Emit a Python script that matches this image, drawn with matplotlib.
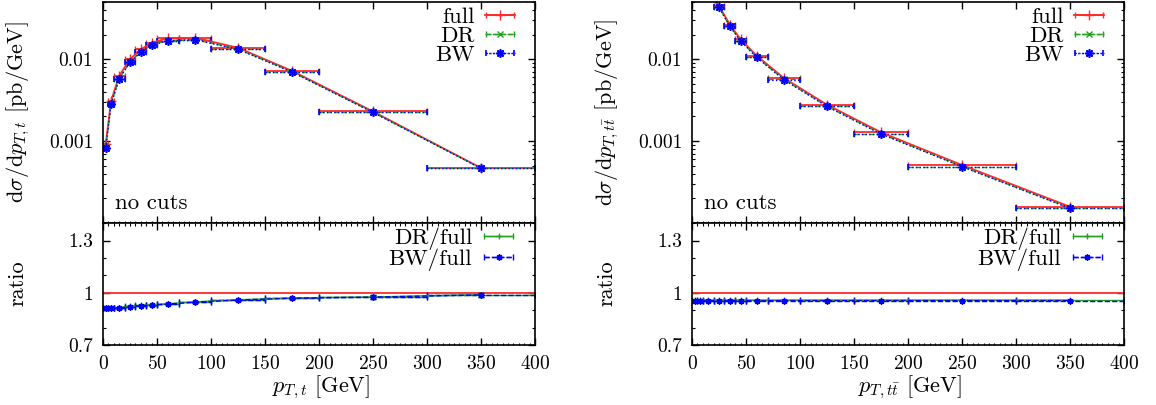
#pT distributions of top and top-pair, full vs DR vs BW, with ratio panels

import numpy as np
import matplotlib
matplotlib.use('Agg')
from matplotlib import pyplot as plt
from matplotlib.ticker import LogLocator, MultipleLocator, NullFormatter
from matplotlib.container import ErrorbarContainer
from matplotlib.legend_handler import HandlerErrorbar

plt.rcParams['font.family'] = 'cmr10'
plt.rcParams['mathtext.fontset'] = 'cm'
plt.rcParams['axes.unicode_minus'] = False
plt.rcParams['axes.formatter.use_mathtext'] = True

# Binning (same for both observables).
BIN_CENTRES = [2.5, 7.5, 15, 25, 35, 45, 60, 85, 125, 175, 250, 350]
BIN_HALF = [2.5, 2.5, 5, 5, 5, 5, 10, 15, 25, 25, 50, 50]

# pT of the top quark [pb/GeV].
PT_T_FULL = [0.00091, 0.0031, 0.0063, 0.0100, 0.0132, 0.0159, 0.0180, 0.0183,
             0.0138, 0.0072, 0.0023, 0.00047]
PT_T_DR = [0.00084, 0.00285, 0.00578, 0.0093, 0.0123, 0.0149, 0.0169, 0.0174,
           0.0133, 0.00700, 0.00225, 0.000466]
PT_T_BW = [0.00083, 0.00283, 0.00575, 0.0092, 0.0122, 0.0148, 0.0168, 0.0173,
           0.0132, 0.00698, 0.00224, 0.000465]
RATIO_T_DR = [0.913, 0.914, 0.915, 0.923, 0.928, 0.931, 0.937, 0.948, 0.960,
              0.970, 0.976, 0.989]
RATIO_T_BW = [0.910, 0.912, 0.912, 0.921, 0.926, 0.929, 0.935, 0.946, 0.958,
              0.969, 0.975, 0.988]
RATIO_T_ERR = [0.006, 0.003, 0.003, 0.002, 0.002, 0.002, 0.002, 0.002, 0.003,
               0.004, 0.010, 0.012]

# pT of the top pair [pb/GeV].
PT_TT_FULL = [0.075, 0.095, 0.072, 0.0450, 0.0265, 0.0175, 0.0110, 0.0059,
              0.00278, 0.00128, 0.00051, 0.000158]
PT_TT_DR = [0.0719, 0.0911, 0.0690, 0.0432, 0.0254, 0.0168, 0.01055, 0.00566,
            0.00266, 0.00123, 0.000489, 0.000152]
PT_TT_BW = [0.0716, 0.0907, 0.0688, 0.0430, 0.0253, 0.0167, 0.0105, 0.00563,
            0.00265, 0.00122, 0.000487, 0.000151]
RATIO_TT_DR = [0.957, 0.958, 0.958, 0.958, 0.958, 0.958, 0.958, 0.958, 0.958,
               0.958, 0.958, 0.958]
RATIO_TT_BW = [0.953, 0.954, 0.954, 0.955, 0.954, 0.955, 0.954, 0.955, 0.955,
               0.955, 0.955, 0.955]
RATIO_TT_ERR = [0.002, 0.002, 0.002, 0.002, 0.002, 0.002, 0.002, 0.002, 0.002,
                0.002, 0.002, 0.003]

RED = '#ff2a2a'
GREEN = '#22a022'
BLUE = '#0000ff'
ASTER = (8, 2, 0)

FIG = plt.figure(figsize=(11.56, 4.05), dpi=100)

PANELS = [
    (0.0891, PT_T_FULL, PT_T_DR, PT_T_BW, RATIO_T_DR, RATIO_T_BW, RATIO_T_ERR,
     r'$\mathrm{d}\sigma/\mathrm{d}p_{T,t}$ [pb/GeV]', r'$p_{T,t}$ [GeV]'),
    (0.5986, PT_TT_FULL, PT_TT_DR, PT_TT_BW, RATIO_TT_DR, RATIO_TT_BW,
     RATIO_TT_ERR, r'$\mathrm{d}\sigma/\mathrm{d}p_{T,t\bar{t}}$ [pb/GeV]',
     r'$p_{T,t\bar{t}}$ [GeV]'),
]

HMAP = {ErrorbarContainer: HandlerErrorbar(xerr_size=0.62)}


def style_errbar(cont, ls):
    for coll in cont[2]:
        coll.set_linestyle(ls)


for left, full, dr, bw, r_dr, r_bw, r_err, ylab, xlab in PANELS:

    ax_top = FIG.add_axes([left, 0.4494, 0.3737, 0.5457])
    ax_rat = FIG.add_axes([left, 0.148, 0.3737, 0.3012])

    # Top panel: distributions.
    c_full = ax_top.errorbar(BIN_CENTRES, full, xerr=BIN_HALF, color=RED,
                             lw=1.3, marker='+', ms=7, mew=1.0, capsize=2.5,
                             elinewidth=1.3, label='full')
    c_dr = ax_top.errorbar(BIN_CENTRES, dr, xerr=BIN_HALF, color=GREEN,
                           lw=1.0, ls='--', marker='x', ms=5, mew=1.0,
                           capsize=2.5, elinewidth=1.0, label='DR')
    style_errbar(c_dr, '--')
    c_bw = ax_top.errorbar(BIN_CENTRES, bw, xerr=BIN_HALF, color=BLUE,
                           lw=1.0, ls=':', marker=ASTER, ms=6, mew=1.2,
                           capsize=2.5, elinewidth=1.0, label='BW')
    style_errbar(c_bw, ':')

    ax_top.set_yscale('log')
    ax_top.set_xlim(0, 400)
    ax_top.set_ylim(1e-4, 0.05)
    ax_top.set_yticks([1e-3, 1e-2])
    ax_top.set_yticklabels(['0.001', '0.01'])
    ax_top.yaxis.set_minor_locator(LogLocator(base=10, subs=np.arange(2, 10)))
    ax_top.yaxis.set_minor_formatter(NullFormatter())
    ax_top.xaxis.set_major_locator(MultipleLocator(50))
    ax_top.xaxis.set_minor_locator(MultipleLocator(5))
    ax_top.tick_params(which='both', direction='in', top=True, right=True,
                       labelbottom=False, labelsize=14, pad=7)
    ax_top.tick_params(which='major', length=5, width=1.0)
    ax_top.tick_params(which='minor', length=2.5, width=0.8)
    ax_top.tick_params(axis='x', which='minor', top=False, length=1.8)
    ax_top.set_ylabel(ylab, fontsize=16)
    ax_top.yaxis.set_label_coords(-0.165, 0.5)

    ax_top.text(0.028, 0.063, 'no cuts', transform=ax_top.transAxes,
                fontsize=16.5, va='baseline', ha='left')

    ax_top.legend(handles=[c_full, c_dr, c_bw], loc='upper right',
                  bbox_to_anchor=(0.953, 0.977), frameon=False,
                  markerfirst=False, fontsize=16.5, borderpad=0,
                  borderaxespad=0, handlelength=1.3, handletextpad=0.45,
                  labelspacing=-0.05, handler_map=HMAP)

    # Ratio panel.
    ax_rat.axhline(1.0, color=RED, lw=1.3)
    c_rdr = ax_rat.errorbar(BIN_CENTRES, r_dr, xerr=BIN_HALF,
                            color=GREEN, lw=1.0, marker='+', ms=5, mew=1.0,
                            capsize=2.5, elinewidth=1.0, label='DR/full')
    ax_rat.errorbar(BIN_CENTRES, r_dr, yerr=r_err, color=GREEN, ls='none',
                    capsize=2.0, elinewidth=1.0)
    c_rbw = ax_rat.errorbar(BIN_CENTRES, r_bw, xerr=BIN_HALF,
                            color=BLUE, lw=1.0, ls='--', marker=ASTER, ms=4.5,
                            mew=1.0, capsize=2.5, elinewidth=1.0,
                            label='BW/full')
    style_errbar(c_rbw, '--')
    ax_rat.errorbar(BIN_CENTRES, r_bw, yerr=r_err, color=BLUE, ls='none',
                    capsize=2.0, elinewidth=1.0)

    ax_rat.set_xlim(0, 400)
    ax_rat.set_ylim(0.7, 1.4)
    ax_rat.set_yticks([0.7, 1.0, 1.3])
    ax_rat.set_yticklabels(['0.7', '1', '1.3'])
    ax_rat.yaxis.set_minor_locator(MultipleLocator(0.1))
    ax_rat.xaxis.set_major_locator(MultipleLocator(50))
    ax_rat.xaxis.set_minor_locator(MultipleLocator(5))
    ax_rat.tick_params(which='both', direction='in', top=True, right=True,
                       labelsize=14, pad=7)
    ax_rat.tick_params(which='major', length=5, width=1.0)
    ax_rat.tick_params(which='minor', length=2.5, width=0.8)
    ax_rat.tick_params(axis='x', which='minor', length=1.8)
    ax_rat.set_ylabel('ratio', fontsize=16)
    ax_rat.yaxis.set_label_coords(-0.175, 0.51)
    ax_rat.set_xlabel(xlab, fontsize=16)
    ax_rat.xaxis.set_label_coords(0.505, -0.23)

    ax_rat.legend(handles=[c_rdr, c_rbw], loc='upper right',
                  bbox_to_anchor=(0.95, 0.965), frameon=False,
                  markerfirst=False, fontsize=16.5, borderpad=0,
                  borderaxespad=0, handlelength=1.3, handletextpad=0.5,
                  labelspacing=-0.05, handler_map=HMAP)

    for ax_f in (ax_top, ax_rat):
        for sp in ax_f.spines.values():
            sp.set_linewidth(1.2)

plt.savefig('out.png', dpi=100)
